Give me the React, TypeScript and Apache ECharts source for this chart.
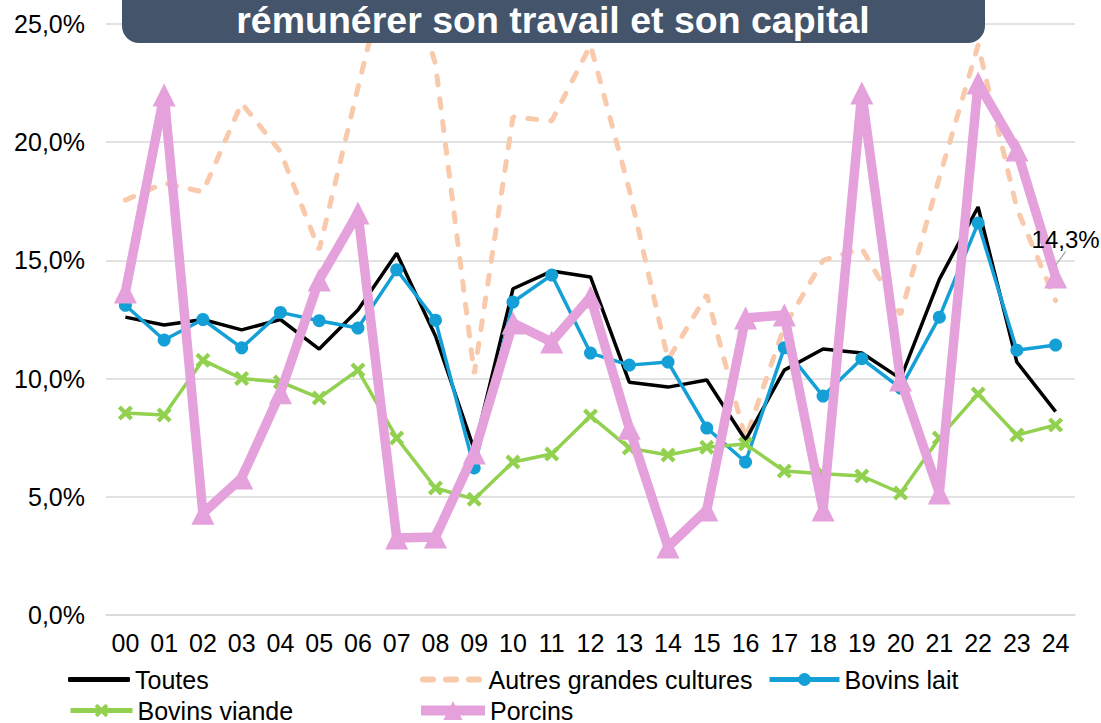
import React, { useEffect, useRef } from "react";
import * as echarts from "echarts";

const categories = ["00","01","02","03","04","05","06","07","08","09","10","11","12","13","14","15","16","17","18","19","20","21","22","23","24"];
const toutes = [12.6,12.27,12.5,12.06,12.5,11.25,12.9,15.3,11.8,7.0,13.8,14.55,14.3,9.85,9.64,9.94,7.4,10.36,11.25,11.08,10.0,14.2,17.26,10.7,8.6];
const autres = [17.55,18.27,17.9,21.65,19.6,15.45,22.3,29.0,23.3,10.2,21.07,20.9,24.1,18.0,10.8,13.55,7.45,12.2,15.0,15.5,12.7,18.5,24.1,17.2,13.3];
const bovinsLait = [13.1,11.63,12.5,11.3,12.8,12.45,12.14,14.6,12.47,6.22,13.24,14.38,11.08,10.57,10.7,7.91,6.47,11.3,9.26,10.84,9.6,12.6,16.58,11.2,11.42];
const bovinsViande = [8.54,8.46,10.78,10.0,9.86,9.18,10.36,7.49,5.37,4.9,6.47,6.81,8.42,7.06,6.77,7.1,7.23,6.09,5.97,5.88,5.16,7.49,9.35,7.61,8.04];
const porcins = [13.66,22.0,4.3,5.8,9.4,14.17,17.0,3.26,3.3,6.85,12.35,11.55,13.45,7.9,2.88,4.44,12.56,12.69,4.44,22.08,9.94,5.16,22.5,19.67,14.3];
const seriesNames = ["Toutes","Autres grandes cultures","Bovins lait","Bovins viande","Porcins"];
const titleText = "rémunérer son travail et son capital";

const FONT = "Arial, 'Liberation Sans', sans-serif";
const X_PATH = "path://M2,0 L5,3 L8,0 L10,2 L7,5 L10,8 L8,10 L5,7 L2,10 L0,8 L3,5 L0,2 Z";
const DASH_ICON = "path://M3,0h10a3,3 0 0 1 0,6h-10a3,3 0 0 1 0,-6z M26,0h10a3,3 0 0 1 0,6h-10a3,3 0 0 1 0,-6z M49,0h10a3,3 0 0 1 0,6h-10a3,3 0 0 1 0,-6z";

const BLACK = "#000";
const PEACH = "#F8C9AB";
const BLUE = "#14A0D6";
const GREEN = "#92D050";
const PINK = "#E4A1DB";

export default function App() {
  const ref = useRef<HTMLDivElement>(null);
  useEffect(() => {
    document.body.style.margin = "0";
    const chart = echarts.init(ref.current!, null, { renderer: "svg" });
    const legendBase = {
      itemWidth: 62,
      itemHeight: 16,
      itemGap: 5,
      padding: 0,
      textStyle: { fontSize: 25, color: "#000", fontFamily: FONT },
      selectedMode: false as const,
    };
    const lastIdx = porcins.length - 1;
    const row1 = 667;
    const row2 = 698;
    chart.setOption({
      animation: false,
      backgroundColor: "#fff",
      grid: { left: 106, right: 26, top: 24, bottom: 108, containLabel: false },
      xAxis: {
        type: "category",
        data: categories,
        boundaryGap: true,
        axisLine: { show: true, lineStyle: { color: "#d9d9d9", width: 1.5 } },
        axisTick: { show: false },
        axisLabel: { fontSize: 25, color: "#000", fontFamily: FONT, margin: 15, interval: 0 },
      },
      yAxis: {
        type: "value",
        min: 0,
        max: 25,
        interval: 5,
        axisLine: { show: false },
        axisTick: { show: false },
        splitLine: { lineStyle: { color: "#d9d9d9", width: 1.5 } },
        axisLabel: {
          fontSize: 25,
          color: "#000",
          fontFamily: FONT,
          margin: 21,
          formatter: (v: number) => v.toFixed(1).replace(".", ",") + "%",
        },
      },
      legend: [
        {
          ...legendBase,
          left: 68,
          top: row1,
          itemHeight: 5,
          itemWidth: 62,
          data: [{ name: seriesNames[0], icon: "roundRect", itemStyle: { color: BLACK } }],
        },
        {
          ...legendBase,
          left: 420,
          top: row1,
          itemHeight: 6,
          itemWidth: 65,
          data: [{ name: seriesNames[1], icon: DASH_ICON, itemStyle: { color: PEACH } }],
        },
        {
          ...legendBase,
          left: 767,
          top: row1,
          itemHeight: 16,
          itemWidth: 70,
          data: [{ name: seriesNames[2], lineStyle: { width: 5 } }],
        },
        {
          ...legendBase,
          left: 68,
          top: row2,
          itemHeight: 17,
          data: [{ name: seriesNames[3], lineStyle: { width: 5 } }],
        },
        {
          ...legendBase,
          left: 416,
          top: row2,
          itemHeight: 24,
          itemWidth: 64,
          data: [{ name: seriesNames[4], lineStyle: { width: 10 } }],
        },
      ],
      series: [
        {
          name: seriesNames[0],
          type: "line",
          data: toutes,
          symbol: "none",
          color: BLACK,
          lineStyle: { color: BLACK, width: 3.5 },
          z: 2,
        },
        {
          name: seriesNames[1],
          type: "line",
          data: autres,
          symbol: "none",
          color: PEACH,
          lineStyle: { color: PEACH, width: 5, type: [9, 14], cap: "round" },
          z: 1,
        },
        {
          name: seriesNames[2],
          type: "line",
          data: bovinsLait,
          symbol: "circle",
          symbolSize: 13,
          color: BLUE,
          itemStyle: { color: BLUE },
          lineStyle: { color: BLUE, width: 3.5 },
          z: 3,
        },
        {
          name: seriesNames[3],
          type: "line",
          data: bovinsViande,
          symbol: X_PATH,
          symbolSize: 15,
          color: GREEN,
          itemStyle: { color: GREEN },
          lineStyle: { color: GREEN, width: 3.5 },
          z: 4,
        },
        {
          name: seriesNames[4],
          type: "line",
          data: porcins.map((v, i) =>
            i === lastIdx
              ? {
                  value: v,
                  label: {
                    show: true,
                    position: "top",
                    fontSize: 24,
                    color: "#000",
                    fontFamily: FONT,
                    formatter: (p: any) => p.value.toFixed(1).replace(".", ",") + "%",
                  },
                  labelLine: { show: true, lineStyle: { color: "#a6a6a6", width: 1.2 } },
                }
              : v
          ),
          symbol: "triangle",
          symbolSize: 23,
          color: PINK,
          itemStyle: { color: PINK },
          lineStyle: { color: PINK, width: 9.5, join: "round" },
          labelLayout: (params: any) =>
            params.dataIndex === lastIdx ? { dx: 10, dy: -9 } : {},
          z: 5,
        },
      ],
      graphic: [
        {
          type: "rect",
          z: 100,
          shape: { x: 122, y: -40, width: 863, height: 83, r: 17 },
          style: { fill: "#44546A" },
        },
        {
          type: "text",
          z: 101,
          x: 553,
          y: 20,
          style: {
            text: titleText,
            fill: "#fff",
            font: `bold 37.5px ${FONT}`,
            textAlign: "center",
            textVerticalAlign: "middle",
          },
        },
      ],
    });
    return () => chart.dispose();
  }, []);
  return <div ref={ref} style={{ width: 1101, height: 723 }} />;
}
